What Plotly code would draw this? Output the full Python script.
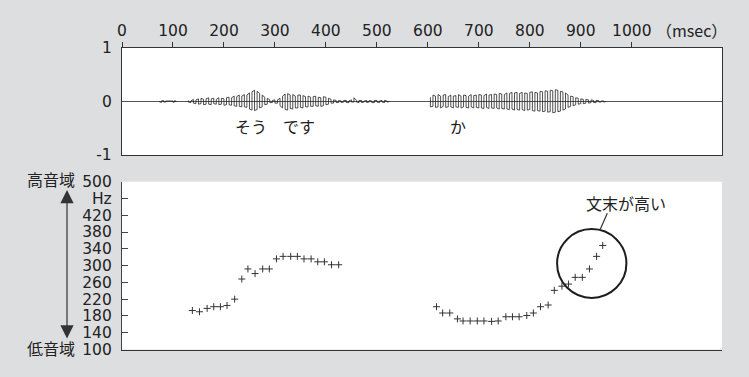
import plotly.graph_objects as go

W, H = 749, 377
NUM_FONT = "DejaVu Sans"
JP_FONT = "Noto Sans CJK JP"
BG = "#dddee0"
INK = "#222222"

# ---------------- data ----------------
X_TICKS = [0, 100, 200, 300, 400, 500, 600, 700, 800, 900, 1000]
X_RANGE = [0, 1177]
AMP_TICKS = [-1, 0, 1]
HZ_TICKS = [100, 140, 180, 220, 260, 300, 340, 380, 420, 460, 500]
HZ_LABELS = ["100", "140", "180", "220", "260", "300", "340", "380", "420", "Hz", "500"]

# waveform envelope (upper / lower magnitude)
WAVE0_T = [74, 78, 82, 86, 100, 103, 106]
WAVE0_UP = [0.01, 0.015, 0.015, 0.01, 0.01, 0.015, 0.01]
WAVE0_LO = [0.01, 0.015, 0.01, 0.01, 0.015, 0.01, 0.01]

WAVE1_T0, WAVE1_STEP = 130, 5
WAVE1_UP = [0.02, 0.01, 0.04, 0.03, 0.05, 0.06, 0.04, 0.05, 0.07, 0.05,
            0.06, 0.04, 0.07, 0.06, 0.05, 0.07, 0.08, 0.07, 0.10, 0.09,
            0.12, 0.10, 0.13, 0.12, 0.16, 0.18, 0.21, 0.19, 0.15, 0.12,
            0.08, 0.06, 0.03, 0.02, 0.03, 0.03, 0.06, 0.10, 0.14, 0.15,
            0.12, 0.13, 0.10, 0.12, 0.12, 0.11, 0.09, 0.10, 0.08, 0.09,
            0.10, 0.08, 0.07, 0.09, 0.08, 0.06, 0.04, 0.03, 0.02, 0.02,
            0.01, 0.02, 0.02, 0.01, 0.03, 0.07, 0.02, 0.02, 0.02, 0.01,
            0.02, 0.02, 0.01, 0.02, 0.02, 0.01, 0.02, 0.02, 0.01, 0.0]
WAVE1_LO = [0.01, 0.02, 0.03, 0.04, 0.05, 0.04, 0.06, 0.05, 0.05, 0.06,
            0.04, 0.05, 0.06, 0.05, 0.07, 0.06, 0.06, 0.07, 0.08, 0.09,
            0.09, 0.10, 0.10, 0.11, 0.14, 0.16, 0.17, 0.15, 0.12, 0.10,
            0.06, 0.05, 0.02, 0.02, 0.03, 0.03, 0.08, 0.12, 0.15, 0.16,
            0.13, 0.14, 0.12, 0.12, 0.11, 0.12, 0.10, 0.10, 0.09, 0.09,
            0.08, 0.09, 0.09, 0.08, 0.06, 0.05, 0.03, 0.03, 0.02, 0.02,
            0.02, 0.01, 0.02, 0.02, 0.01, 0.01, 0.01, 0.02, 0.02, 0.01,
            0.02, 0.01, 0.02, 0.02, 0.01, 0.02, 0.01, 0.02, 0.01, 0.0]

WAVE2_T0, WAVE2_STEP = 605, 5
WAVE2_UP = [0.08, 0.12, 0.10, 0.13, 0.10, 0.12, 0.13, 0.09, 0.12, 0.10,
            0.11, 0.13, 0.10, 0.12, 0.11, 0.10, 0.13, 0.11, 0.12, 0.13,
            0.12, 0.11, 0.14, 0.12, 0.13, 0.14, 0.13, 0.15, 0.14, 0.13,
            0.16, 0.15, 0.17, 0.16, 0.17, 0.15, 0.17, 0.16, 0.15, 0.17,
            0.18, 0.17, 0.16, 0.19, 0.18, 0.20, 0.19, 0.21, 0.20, 0.22,
            0.21, 0.19, 0.18, 0.16, 0.12, 0.10, 0.09, 0.07, 0.06, 0.05,
            0.04, 0.04, 0.03, 0.03, 0.02, 0.02, 0.02, 0.01, 0.01, 0.0]
WAVE2_LO = [0.10, 0.09, 0.11, 0.10, 0.12, 0.09, 0.11, 0.10, 0.10, 0.12,
            0.10, 0.11, 0.12, 0.10, 0.11, 0.12, 0.10, 0.12, 0.11, 0.12,
            0.12, 0.13, 0.11, 0.13, 0.12, 0.13, 0.12, 0.14, 0.13, 0.14,
            0.14, 0.15, 0.14, 0.16, 0.15, 0.16, 0.15, 0.17, 0.16, 0.15,
            0.17, 0.18, 0.17, 0.18, 0.19, 0.18, 0.20, 0.19, 0.21, 0.20,
            0.19, 0.18, 0.16, 0.14, 0.11, 0.09, 0.08, 0.06, 0.05, 0.04,
            0.04, 0.03, 0.03, 0.02, 0.02, 0.02, 0.01, 0.01, 0.01, 0.0]

# pitch (F0) points
PITCH1_T = [138, 152, 167, 180, 193, 206, 221, 235, 247, 261, 276,
            289, 303, 316, 331, 344, 357, 371, 384, 397, 411, 425]
PITCH1_HZ = [193, 190, 198, 202, 202, 205, 220, 268, 292, 281, 292,
             292, 316, 322, 322, 322, 316, 316, 309, 309, 302, 302]
PITCH2_T = [617, 629, 643, 658, 669, 683, 697, 710, 725, 738, 753, 766, 779,
            794, 807, 821, 836, 848, 863, 876, 889, 903, 917, 931, 943]
PITCH2_HZ = [202, 187, 187, 173, 168, 168, 168, 168, 167, 168, 178, 178, 178,
             181, 187, 202, 206, 241, 251, 256, 272, 272, 292, 322, 348]

SYLLABLES = [("そう", 253, -0.46), ("です", 347, -0.46), ("か", 660, -0.46)]
CALLOUT_TEXT = "文末が高い"
CIRCLE_CENTER = (921.5, 305)
CIRCLE_RADIUS = (68, 82)

# ---------------- build ----------------
def px_x(p):
    return p / W

def px_y(p):
    return 1 - p / H

def strokes(times, up, lo, wx, wy):
    for i, (t, u, l) in enumerate(zip(times, up, lo)):
        if i % 2 == 0:
            wx += [t, t]; wy += [u, -l]
        else:
            wx += [t, t]; wy += [-l, u]
    wx.append(None); wy.append(None)

wx, wy = [], []
strokes(WAVE0_T, WAVE0_UP, WAVE0_LO, wx, wy)
strokes([WAVE1_T0 + i * WAVE1_STEP for i in range(len(WAVE1_UP))],
        WAVE1_UP, WAVE1_LO, wx, wy)
strokes([WAVE2_T0 + i * WAVE2_STEP for i in range(len(WAVE2_UP))],
        WAVE2_UP, WAVE2_LO, wx, wy)

fig = go.Figure()
fig.add_trace(go.Scatter(x=wx, y=wy, mode="lines", xaxis="x", yaxis="y",
                         line=dict(color="#222222", width=0.8),
                         hoverinfo="skip", showlegend=False))
fig.add_trace(go.Scatter(x=PITCH1_T + [None] + PITCH2_T,
                         y=PITCH1_HZ + [None] + PITCH2_HZ,
                         mode="markers", xaxis="x2", yaxis="y2",
                         marker=dict(symbol="cross-thin", size=5,
                                     line=dict(color="#333333", width=1)),
                         showlegend=False))

xdom = [px_x(122), px_x(722)]
tick_font = dict(family=NUM_FONT, size=15.5, color=INK)
jp_font = dict(family=JP_FONT, size=16, color=INK)

fig.update_layout(
    width=W, height=H,
    margin=dict(l=0, r=0, t=0, b=0, pad=0),
    paper_bgcolor=BG, plot_bgcolor="white",
    font=dict(family=NUM_FONT, color=INK),
    xaxis=dict(domain=xdom, range=X_RANGE, anchor="y", side="top",
               tickvals=X_TICKS, ticktext=[str(v) for v in X_TICKS],
               ticks="outside", ticklen=5, tickcolor="#333", tickwidth=1,
               showline=True, mirror=True, linecolor="#333", linewidth=1.3,
               showgrid=False, zeroline=False, tickfont=tick_font,
               ticklabelstandoff=0, automargin=False),
    yaxis=dict(domain=[px_y(155), px_y(48)], range=[-1, 1], anchor="x",
               tickvals=AMP_TICKS, ticktext=[str(v) for v in AMP_TICKS],
               ticks="", showline=True, mirror=True, linecolor="#333",
               linewidth=1.3, showgrid=False, zeroline=True,
               zerolinecolor="#555", zerolinewidth=1, tickfont=tick_font,
               ticklabelstandoff=6, automargin=False),
    xaxis2=dict(domain=xdom, range=X_RANGE, anchor="y2",
                showticklabels=False, ticks="", showline=True,
                linecolor="#333", linewidth=1.3, showgrid=False,
                zeroline=False, automargin=False),
    yaxis2=dict(domain=[px_y(349.5), px_y(181.7)], range=[100, 500],
                anchor="x2", tickvals=HZ_TICKS, ticktext=HZ_LABELS,
                ticks="inside", ticklen=6, tickcolor="#444", tickwidth=1,
                showline=True, linecolor="#444", linewidth=1.3,
                showgrid=False, zeroline=False, tickfont=tick_font,
                ticklabelstandoff=6, automargin=False),
)

ann = []
ann.append(dict(text="（msec）", x=px_x(691), y=px_y(30.5), xref="paper",
                yref="paper", showarrow=False,
                font=dict(family=JP_FONT, size=16, color=INK),
                xanchor="center", yanchor="middle"))
for txt, t, a in SYLLABLES:
    ann.append(dict(text=txt, x=t, y=a, xref="x", yref="y", showarrow=False,
                    font=jp_font, xanchor="center", yanchor="middle"))
ann.append(dict(text="高音域", x=px_x(51), y=px_y(178.5), xref="paper",
                yref="paper", showarrow=False, font=jp_font,
                xanchor="center", yanchor="middle"))
ann.append(dict(text="低音域", x=px_x(51), y=px_y(348), xref="paper",
                yref="paper", showarrow=False, font=jp_font,
                xanchor="center", yanchor="middle"))
ann.append(dict(text=CALLOUT_TEXT, x=988, y=450, xref="x2", yref="y2",
                showarrow=False, font=jp_font, xanchor="center",
                yanchor="middle"))
# double-headed arrow (head at top, tail offset in pixels below)
ann.append(dict(text="", x=px_x(67), y=px_y(190), xref="paper", yref="paper",
                ax=0, ay=150, axref="pixel", ayref="pixel",
                showarrow=True, arrowhead=2, arrowside="end+start",
                arrowsize=2.2, arrowwidth=1.2, arrowcolor="#333"))
fig.update_layout(annotations=ann)

cx, cy = CIRCLE_CENTER
rx, ry = CIRCLE_RADIUS
fig.add_shape(type="circle", xref="x2", yref="y2", x0=cx - rx, x1=cx + rx,
              y0=cy - ry, y1=cy + ry, line=dict(color="#1e1e1e", width=2))
fig.add_shape(type="line", xref="x2", yref="y2", x0=952, y0=425, x1=938,
              y1=386, line=dict(color="#333", width=1.2))

fig.write_html("out.html")
